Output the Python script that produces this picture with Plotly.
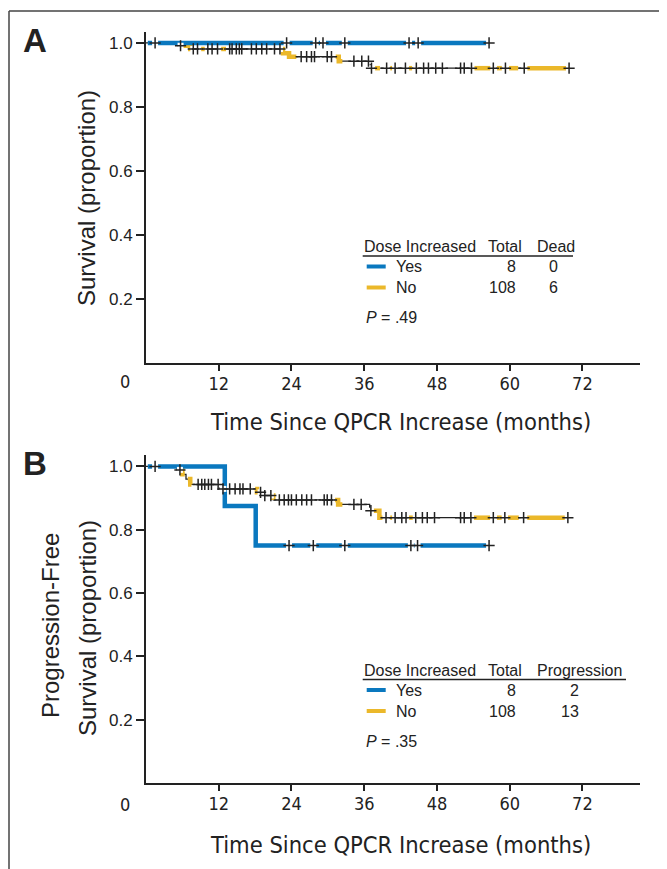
import plotly.graph_objects as go

# the page body adds an 8px margin; the figure is sized to fill the rest of the 667x869 window
PAGE_W, PAGE_H = 667, 869
OFF = 8
W, H = PAGE_W - OFF, PAGE_H - OFF

# ---------------- Data ----------------
x_ticks = [12, 24, 36, 48, 60, 72]
y_ticks = [0.2, 0.4, 0.6, 0.8, 1.0]
y_tick_text = ["0.2", "0.4", "0.6", "0.8", "1.0"]

# Panel A: overall survival
a_yes_event_t = []
a_yes_event_s = []
a_yes_end = 56.6
a_yes_censor = [23.2, 28.0, 29.2, 32.8, 43.4, 44.9, 56.6]

a_no_event_t = [5.3, 7.3, 22.6, 23.6, 31.8, 37.0]
a_no_event_s = [0.991, 0.981, 0.968, 0.957, 0.943, 0.921]
a_no_end = 69.8
a_no_censor = [1.5, 5.7, 7.8, 8.5, 10.2, 10.9, 11.8, 13.8, 14.2, 14.9, 15.4, 15.8,
               17.4, 18.2, 19.1, 19.9, 21.2, 22.1, 25.6, 26.5, 27.3, 27.8, 29.9,
               30.6, 34.3, 35.6, 36.7, 37.2, 39.7, 41.1, 42.8, 44.6, 45.8, 46.6,
               47.8, 48.9, 51.9, 52.5, 53.7, 57.3, 59.3, 62.4, 69.8]
a_no_hl_start = [6.1, 9.1, 12.4, 19.6, 20.9, 22.3, 26.3, 31.3, 37.8, 40.3, 43.4, 54.1, 57.9, 59.9, 62.9]
a_no_hl_end = [7.5, 9.7, 13.2, 20.1, 21.2, 24.8, 26.7, 32.4, 38.6, 40.6, 43.9, 56.9, 58.7, 61.4, 69.3]

# Panel B: progression-free survival
b_yes_event_t = [13.0, 18.1]
b_yes_event_s = [0.875, 0.75]
b_yes_end = 56.6
b_yes_censor = [23.6, 27.6, 32.8, 43.7, 44.8, 56.6]

b_no_event_t = [5.1, 6.0, 6.6, 7.3, 12.2, 18.3, 19.3, 21.0, 31.7, 36.9, 38.5]
b_no_event_s = [0.989, 0.975, 0.960, 0.943, 0.929, 0.918, 0.908, 0.894, 0.880, 0.860, 0.838]
b_no_end = 69.6
b_no_censor = [1.5, 5.6, 8.6, 9.2, 9.7, 10.3, 10.8, 11.9, 12.7, 13.8, 14.7, 15.5, 16.0,
               17.2, 18.9, 19.6, 20.6, 22.0, 22.8, 23.5, 24.0, 24.8, 25.7, 26.5, 27.3,
               29.4, 29.9, 30.6, 34.3, 35.5, 37.1, 39.6, 41.1, 42.2, 42.9, 44.5, 45.6,
               46.4, 47.6, 51.9, 52.5, 53.6, 57.3, 59.2, 62.3, 69.6]
b_no_hl_start = [5.9, 6.9, 9.1, 12.5, 14.6, 18.0, 19.5, 20.5, 22.5, 24.6, 26.2, 31.2, 37.5, 40.3, 43.4, 54.1, 57.9, 59.7, 62.9]
b_no_hl_end = [6.4, 7.5, 9.4, 12.7, 14.9, 18.8, 19.9, 21.0, 23.0, 25.3, 26.7, 32.4, 39.0, 40.7, 44.1, 56.8, 58.7, 61.5, 69.1]

legend_groups = ["Yes", "No"]
a_totals = [8, 108]
a_dead = [0, 6]
b_totals = [8, 108]
b_prog = [2, 13]
a_p = ".49"
b_p = ".35"

# ---------------- Styling ----------------
BLUE = "#0A78BF"
YELLOW = "#EBB82A"
INK = "#222222"
SANS = "Liberation Sans, Arial, sans-serif"
NARROW = "DejaVu Sans Condensed, Liberation Sans Narrow, sans-serif"


def px_x(x):
    return (x - OFF) / W


def px_y(y):
    return 1 - (y - OFF) / H


def surv_at(t, ev_t, ev_s):
    s = 1.0
    for et, es in zip(ev_t, ev_s):
        if t >= et:
            s = es
    return s


def step_pts(ev_t, ev_s, a, b):
    xs = [a]
    ys = [surv_at(a, ev_t, ev_s)]
    for et, es in zip(ev_t, ev_s):
        if a < et < b:
            xs.append(et)
            ys.append(es)
    xs.append(b)
    ys.append(surv_at(b, ev_t, ev_s))
    return xs, ys


def segments(ev_t, ev_s, starts, ends):
    xs, ys = [], []
    for a, b in zip(starts, ends):
        sx, sy = step_pts(ev_t, ev_s, a, b)
        xs += sx + [None]
        ys += sy + [None]
    return xs, ys


fig = go.Figure()


def add_panel(xa, ya, yes_t, yes_s, yes_end, yes_c, no_t, no_s, no_end, no_c, hl_s, hl_e):
    # thin black KM curve for "No"
    x, y = step_pts(no_t, no_s, 0, no_end)
    fig.add_trace(go.Scatter(x=x, y=y, mode="lines", line=dict(color=INK, width=1.3, shape="hv"),
                             xaxis=xa, yaxis=ya, hoverinfo="skip", showlegend=False))
    # yellow highlighted parts
    x, y = segments(no_t, no_s, hl_s, hl_e)
    fig.add_trace(go.Scatter(x=x, y=y, mode="lines", line=dict(color=YELLOW, width=4.5, shape="hv"),
                             connectgaps=False, xaxis=xa, yaxis=ya, hoverinfo="skip", showlegend=False))
    # blue curve for "Yes"
    x, y = step_pts(yes_t, yes_s, 0.3, yes_end)
    fig.add_trace(go.Scatter(x=x, y=y, mode="lines", line=dict(color=BLUE, width=4.5, shape="hv"),
                             xaxis=xa, yaxis=ya, hoverinfo="skip", showlegend=False))
    # censor marks
    cx = list(yes_c) + list(no_c)
    cy = [surv_at(c, yes_t, yes_s) for c in yes_c] + [surv_at(c, no_t, no_s) for c in no_c]
    fig.add_trace(go.Scatter(x=cx, y=cy, mode="markers",
                             marker=dict(symbol="square", size=6, color="white", line=dict(width=0)),
                             xaxis=xa, yaxis=ya, hoverinfo="skip", showlegend=False))
    fig.add_trace(go.Scatter(x=cx, y=cy, mode="markers",
                             marker=dict(symbol="cross-thin", size=8, line=dict(width=1.5, color=INK)),
                             xaxis=xa, yaxis=ya, hoverinfo="skip", showlegend=False))


add_panel("x", "y", a_yes_event_t, a_yes_event_s, a_yes_end, a_yes_censor,
          a_no_event_t, a_no_event_s, a_no_end, a_no_censor, a_no_hl_start, a_no_hl_end)
add_panel("x2", "y2", b_yes_event_t, b_yes_event_s, b_yes_end, b_yes_censor,
          b_no_event_t, b_no_event_s, b_no_end, b_no_censor, b_no_hl_start, b_no_hl_end)

xdom = [px_x(146), px_x(640)]
common_x = dict(range=[0, 81.5], domain=xdom, showline=True, linecolor=INK, linewidth=2,
                ticks="outside", ticklen=6, tickwidth=1.5, tickcolor=INK,
                tickvals=x_ticks, ticktext=[str(v) for v in x_ticks],
                tickfont=dict(family=NARROW, size=18, color=INK), ticklabelstandoff=-3,
                showgrid=False, zeroline=False, fixedrange=True)
common_y = dict(showline=True, linecolor=INK, linewidth=2,
                ticks="outside", ticklen=8, tickwidth=1.5, tickcolor=INK,
                tickvals=y_ticks, ticktext=y_tick_text,
                tickfont=dict(family=SANS, size=17, color=INK),
                showgrid=False, zeroline=False, fixedrange=True)

fig.update_layout(
    width=W, height=H, margin=dict(l=0, r=0, t=0, b=0),
    paper_bgcolor="white", plot_bgcolor="white", showlegend=False,
    xaxis=dict(common_x, anchor="y"),
    yaxis=dict(common_y, anchor="x", range=[0, 1.034], domain=[px_y(363), px_y(32)]),
    xaxis2=dict(common_x, anchor="y2"),
    yaxis2=dict(common_y, anchor="x2", range=[0, 1.036], domain=[px_y(783), px_y(455)]),
)

ann = []
shapes = []


def text(x, y, s, size=16, family=SANS, anchor="left", angle=0, color=INK):
    ann.append(dict(x=px_x(x), y=px_y(y), xref="paper", yref="paper", text=s, showarrow=False,
                    xanchor=anchor, yanchor="middle", textangle=angle,
                    font=dict(family=family, size=size, color=color)))


def hline(x0, x1, y, color=INK, width=1.5):
    shapes.append(dict(type="line", xref="paper", yref="paper", x0=px_x(x0), x1=px_x(x1),
                       y0=px_y(y), y1=px_y(y), line=dict(color=color, width=width)))


# frame
hline(9, PAGE_W, 11, color="#444444", width=1.5)
shapes.append(dict(type="line", xref="paper", yref="paper", x0=px_x(9), x1=px_x(9),
                   y0=px_y(11), y1=0, line=dict(color="#444444", width=1.5)))

# panel letters
text(35, 40, "<b>A</b>", size=33, anchor="center")
text(35, 463, "<b>B</b>", size=33, anchor="center")

# axis titles
text(87, 198, "Survival (proportion)", size=24, anchor="center", angle=-90)
text(50, 626, "Progression-Free", size=24, anchor="center", angle=-90)
text(87, 628, "Survival (proportion)", size=24, anchor="center", angle=-90)
text(400, 422, "Time Since QPCR Increase (months)", size=23.5, family=NARROW, anchor="center")
text(400, 845, "Time Since QPCR Increase (months)", size=23.5, family=NARROW, anchor="center")
# "0" tick label at the origin
text(125, 381, "0", size=18, family=NARROW, anchor="center")
text(125, 804, "0", size=18, family=NARROW, anchor="center")


def legend_table(y0, last_header, last_vals, last_right, totals, p):
    text(362, y0, "Dose Increased")
    text(486, y0, "Total")
    text(535, y0, last_header)
    hline(362.7, last_right, y0 + 9)
    rows = [y0 + 19.5, y0 + 40.5]
    colors = [BLUE, YELLOW]
    val_right = 560 if last_header == "Dead" else 581
    for i, ry in enumerate(rows):
        hline(366.7, 385.7, ry, color=colors[i], width=4)
        text(394, ry, legend_groups[i])
        text(518, ry, str(totals[i]), anchor="right")
        text(val_right, ry, str(last_vals[i]), anchor="right")
    text(364, y0 + 71, "<i>P</i> = " + p)


legend_table(247, "Dead", a_dead, 573, a_totals, a_p)
legend_table(670.5, "Progression", b_prog, 626, b_totals, b_p)

fig.update_layout(annotations=ann, shapes=shapes)
fig.write_html("out.html")
